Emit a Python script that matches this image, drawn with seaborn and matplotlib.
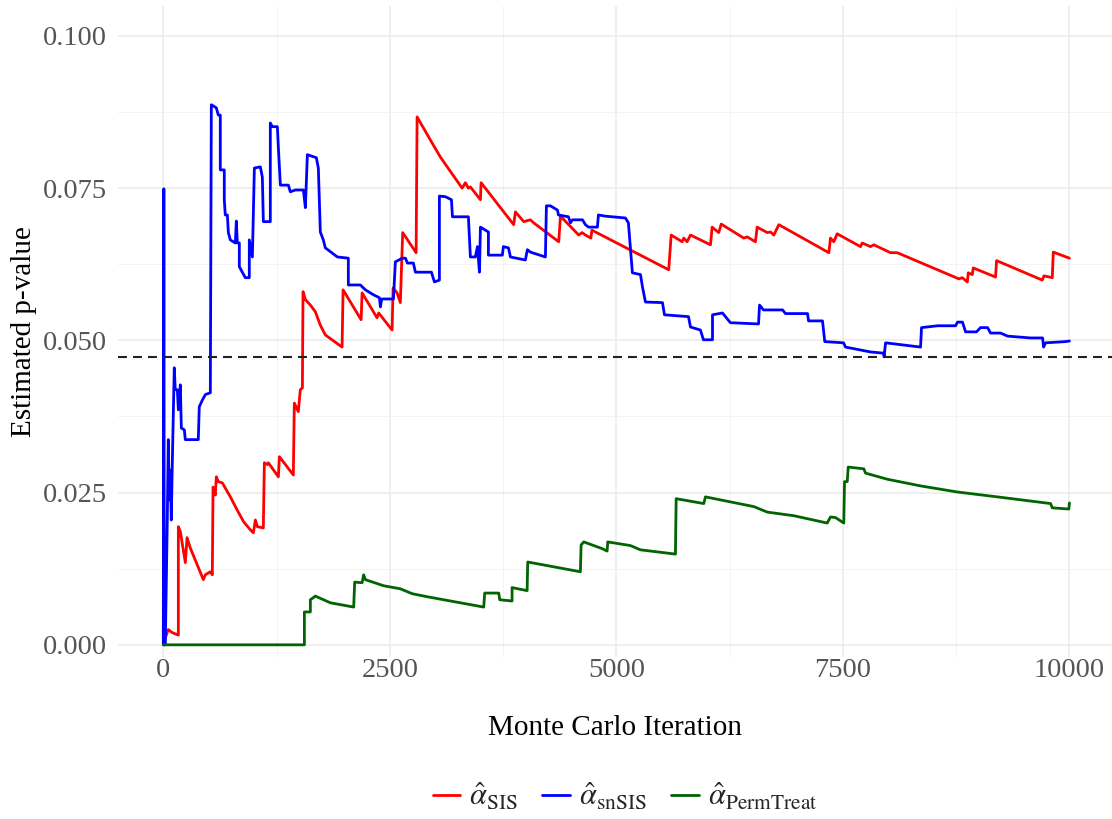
import pandas as pd
import matplotlib
matplotlib.use('Agg')
import matplotlib.pyplot as plt
from matplotlib.lines import Line2D
import seaborn as sns

# (iteration, running p-value estimate)
sis_pts = [
    (0, 0.0003), (33, 0.0016), (55, 0.0025), (99, 0.0020), (166, 0.0016), (166, 0.0194),
    (188, 0.0186), (243, 0.0135), (262, 0.0176), (298, 0.0159), (442, 0.0107), (464, 0.0115),
    (519, 0.0120), (541, 0.0115), (549, 0.0259), (574, 0.0246), (585, 0.0276), (607, 0.0268),
    (651, 0.0266), (740, 0.0243), (813, 0.0222), (887, 0.0202), (960, 0.0189), (994, 0.0184),
    (1016, 0.0205), (1038, 0.0194), (1104, 0.0192), (1115, 0.0299),
    (1148, 0.0296), (1159, 0.0299), (1270, 0.0276), (1281, 0.0309), (1435, 0.0279), (1446, 0.0397),
    (1490, 0.0383), (1512, 0.0419), (1535, 0.0422), (1542, 0.0580), (1568, 0.0567), (1623, 0.0558),
    (1678, 0.0547), (1733, 0.0525), (1788, 0.0509), (1973, 0.0489), (1984, 0.0583), (2183, 0.0534),
    (2194, 0.0578), (2359, 0.0537), (2377, 0.0545), (2525, 0.0517), (2536, 0.0586), (2580, 0.0578),
    (2616, 0.0562), (2642, 0.0677), (2790, 0.0644), (2801, 0.0867), (2948, 0.0829), (3058, 0.0801),
    (3298, 0.0750), (3334, 0.0759), (3367, 0.0750), (3389, 0.0752), (3500, 0.0731), (3507, 0.0759),
    (3867, 0.0690), (3886, 0.0711), (3978, 0.0695), (4051, 0.0698), (4088, 0.0693), (4364, 0.0662),
    (4383, 0.0704), (4585, 0.0673), (4622, 0.0677), (4659, 0.0673), (4719, 0.0668), (4730, 0.0681),
    (5578, 0.0616), (5605, 0.0673), (5726, 0.0662), (5744, 0.0668), (5781, 0.0662), (5818, 0.0673),
    (6039, 0.0657), (6057, 0.0686), (6130, 0.0677), (6157, 0.0691), (6406, 0.0668), (6444, 0.0670),
    (6535, 0.0662), (6554, 0.0686), (6665, 0.0677), (6701, 0.0678), (6738, 0.0673), (6793, 0.0690),
    (7345, 0.0644), (7363, 0.0668), (7400, 0.0662), (7437, 0.0675), (7695, 0.0654), (7713, 0.0660),
    (7805, 0.0654), (7841, 0.0657), (8026, 0.0644), (8100, 0.0644), (8780, 0.0601), (8817, 0.0603),
    (8873, 0.0596), (8884, 0.0611), (8928, 0.0608), (8939, 0.0619), (9185, 0.0604), (9196, 0.0631),
    (9701, 0.0599), (9719, 0.0606), (9811, 0.0603), (9822, 0.0645), (10000, 0.0635),
]

snsis_pts = [
    (0, 0.0), (6, 0.0749), (11, 0.0), (22, 0.0), (33, 0.0107), (44, 0.0205), (55, 0.0337),
    (66, 0.0238), (77, 0.0287), (88, 0.0205), (99, 0.0296), (121, 0.0455), (132, 0.0419),
    (155, 0.0419), (166, 0.0386), (188, 0.0427), (199, 0.0356), (232, 0.0353), (243, 0.0337),
    (386, 0.0337), (397, 0.0391), (431, 0.0402), (464, 0.0411), (519, 0.0414), (530, 0.0887),
    (585, 0.0882), (607, 0.0870), (629, 0.0870), (629, 0.0780), (673, 0.0780), (673, 0.0731),
    (684, 0.0706), (707, 0.0706), (718, 0.0677), (740, 0.0665), (795, 0.0660), (806, 0.0696),
    (817, 0.0660), (839, 0.0660), (839, 0.0621), (905, 0.0603), (949, 0.0603), (949, 0.0665),
    (983, 0.0637), (1005, 0.0783), (1071, 0.0785), (1093, 0.0768), (1104, 0.0695), (1181, 0.0695),
    (1181, 0.0857), (1203, 0.0851), (1259, 0.0851), (1270, 0.0816), (1292, 0.0755), (1380, 0.0755),
    (1402, 0.0744), (1457, 0.0747), (1546, 0.0747), (1568, 0.0718), (1590, 0.0805), (1689, 0.0800),
    (1711, 0.0783), (1733, 0.0678), (1766, 0.0665), (1788, 0.0652), (1921, 0.0637), (2042, 0.0635),
    (2042, 0.0591), (2175, 0.0591), (2230, 0.0583), (2318, 0.0575), (2385, 0.0570), (2396, 0.0555),
    (2410, 0.0568), (2540, 0.0568), (2561, 0.0629), (2638, 0.0635), (2672, 0.0635), (2694, 0.0627),
    (2760, 0.0627), (2782, 0.0612), (2959, 0.0612), (2992, 0.0596), (3047, 0.0599), (3047, 0.0737),
    (3113, 0.0736), (3180, 0.0731), (3191, 0.0703), (3367, 0.0703), (3389, 0.0637), (3444, 0.0637),
    (3467, 0.0654), (3489, 0.0612), (3500, 0.0686), (3555, 0.0681), (3588, 0.0678), (3588, 0.0640),
    (3742, 0.0640), (3753, 0.0654), (3809, 0.0652), (3831, 0.0637), (3996, 0.0632), (4018, 0.0649),
    (4051, 0.0645), (4217, 0.0637), (4228, 0.0721), (4272, 0.0721), (4350, 0.0714), (4361, 0.0706),
    (4471, 0.0703), (4493, 0.0693), (4515, 0.0698), (4626, 0.0698), (4659, 0.0690), (4692, 0.0686),
    (4791, 0.0686), (4802, 0.0706), (4880, 0.0704), (5100, 0.0701), (5133, 0.0693), (5177, 0.0611),
    (5266, 0.0608), (5288, 0.0588), (5321, 0.0563), (5509, 0.0562), (5531, 0.0542), (5796, 0.0539),
    (5818, 0.0522), (5928, 0.0517), (5961, 0.0501), (6061, 0.0501), (6061, 0.0542), (6171, 0.0545),
    (6204, 0.0539), (6259, 0.0529), (6569, 0.0527), (6580, 0.0558), (6624, 0.0550), (6834, 0.0550),
    (6867, 0.0544), (7110, 0.0544), (7121, 0.0532), (7275, 0.0532), (7300, 0.0498), (7507, 0.0496),
    (7529, 0.0489), (7805, 0.0481), (7949, 0.0479), (7955, 0.0473), (7971, 0.0496), (8357, 0.0489),
    (8368, 0.0521), (8545, 0.0524), (8744, 0.0524), (8765, 0.0530), (8820, 0.0530), (8854, 0.0514),
    (8975, 0.0514), (9019, 0.0521), (9097, 0.0521), (9130, 0.0512), (9240, 0.0512), (9318, 0.0507),
    (9571, 0.0504), (9704, 0.0504), (9715, 0.0489), (9737, 0.0496), (9958, 0.0498), (10000, 0.0499),
]

perm_pts = [
    (0, 0.0), (1557, 0.0), (1557, 0.0054), (1623, 0.0054), (1623, 0.0074), (1678, 0.0080),
    (1844, 0.0069), (2101, 0.0062), (2112, 0.0103), (2194, 0.0102), (2211, 0.0115), (2230, 0.0107),
    (2432, 0.0097), (2616, 0.0092), (2746, 0.0084), (2911, 0.0079), (3536, 0.0062), (3547, 0.0085),
    (3702, 0.0085), (3713, 0.0074), (3849, 0.0072), (3849, 0.0094), (4015, 0.0089), (4022, 0.0136),
    (4603, 0.0120), (4611, 0.0164), (4640, 0.0169), (4843, 0.0158), (4898, 0.0154), (4905, 0.0169),
    (5155, 0.0163), (5266, 0.0156), (5652, 0.0149), (5660, 0.0240), (5965, 0.0232), (5983, 0.0243),
    (6517, 0.0227), (6665, 0.0218), (6959, 0.0212), (7327, 0.0200), (7363, 0.0210), (7419, 0.0209),
    (7510, 0.0200), (7518, 0.0268), (7548, 0.0268), (7559, 0.0292), (7731, 0.0289), (7750, 0.0282),
    (7989, 0.0272), (8357, 0.0261), (8762, 0.0251), (8873, 0.0249), (9204, 0.0243), (9792, 0.0232),
    (9811, 0.0225), (9994, 0.0223), (10000, 0.0233),
]

ref_level = 0.0473

series_labels = [r'$\hat{\alpha}_{\mathrm{SIS}}$',
                 r'$\hat{\alpha}_{\mathrm{snSIS}}$',
                 r'$\hat{\alpha}_{\mathrm{PermTreat}}$']
series_colors = ['#FF0000', '#0000FF', '#006400']
x_ticks = [0, 2500, 5000, 7500, 10000]
y_ticks = [0.0, 0.025, 0.05, 0.075, 0.1]

frames = []
for lab, pts in zip(series_labels, [sis_pts, snsis_pts, perm_pts]):
    d = pd.DataFrame(pts, columns=['iteration', 'p'])
    d['series'] = lab
    frames.append(d)
df = pd.concat(frames, ignore_index=True)

sns.set_style('white')
plt.rcParams['font.family'] = ['Liberation Serif', 'DejaVu Serif']
plt.rcParams['mathtext.fontset'] = 'stix'

fig = plt.figure(figsize=(11.12, 8.19), dpi=100)
ax = fig.add_axes([118 / 1112, 1 - 657 / 819, 994 / 1112, (657 - 5.5) / 819])

sns.lineplot(data=df, x='iteration', y='p', hue='series', hue_order=series_labels,
             palette=series_colors, estimator=None, sort=False, linewidth=2.0,
             legend=False, ax=ax)
ax.axhline(ref_level, color='#222222', lw=1.5, ls=(0, (4.3, 2.9)), zorder=3)

ax.set_xlim(-500, 10470)
ax.set_ylim(-0.002, 0.105)
ax.set_xticks(x_ticks)
ax.set_xticklabels([str(t) for t in x_ticks])
ax.set_xticks([1250, 3750, 6250, 8750], minor=True)
ax.set_yticks(y_ticks)
ax.set_yticklabels([f'{t:.3f}' for t in y_ticks])
ax.set_yticks([0.0125, 0.0375, 0.0625, 0.0875], minor=True)

ax.set_axisbelow(True)
ax.grid(which='major', color='#EBEBEB', lw=1.1)
ax.grid(which='minor', color='#F3F3F3', lw=0.7)
for s in ax.spines.values():
    s.set_visible(False)
ax.tick_params(which='both', length=0)
ax.tick_params(axis='both', labelsize=20.5, labelcolor='#555555')
ax.tick_params(axis='x', pad=1)
ax.tick_params(axis='y', pad=8)

ax.set_xlabel('Monte Carlo Iteration', fontsize=21, color='black', labelpad=23)
ax.set_ylabel('Estimated p-value', fontsize=21, color='black', labelpad=4)

handles = [Line2D([0], [0], color=c, lw=2.0) for c in series_colors]
fig.legend(handles, series_labels, loc='center', bbox_to_anchor=(625 / 1112, 1 - 797 / 819),
           ncol=3, frameon=False, fontsize=22, handlelength=0.9, handletextpad=0.3,
           columnspacing=0.8)

fig.savefig('out.png', dpi=100)
